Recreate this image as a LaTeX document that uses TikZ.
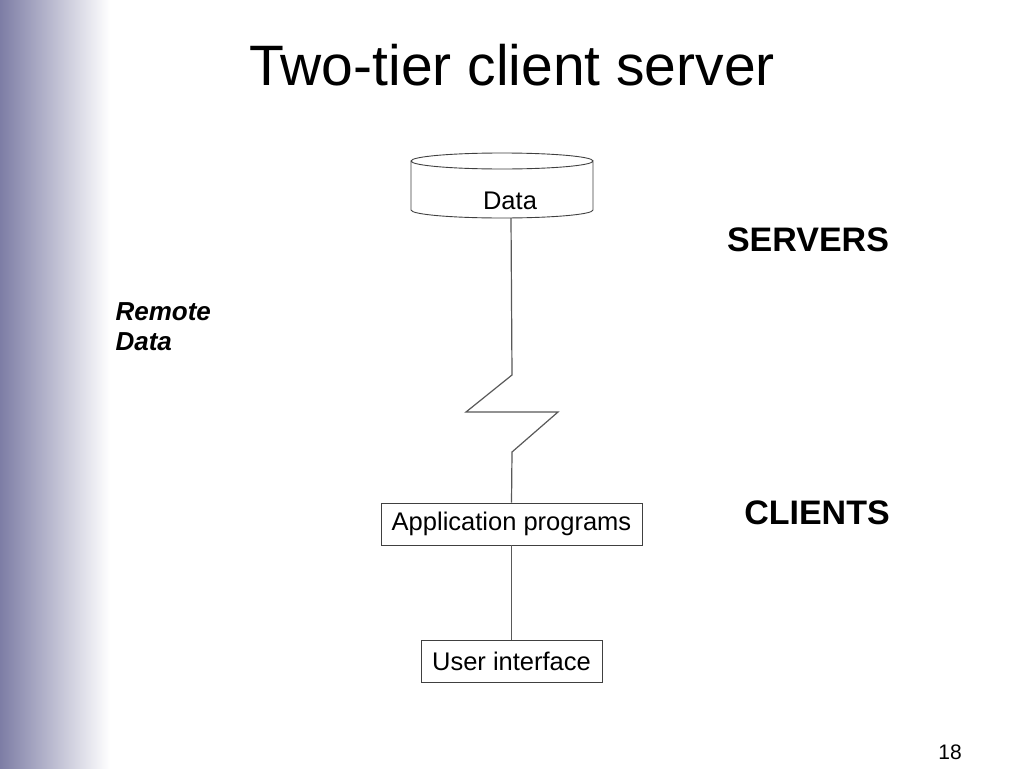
\documentclass[tikz,border=0pt]{standalone}
\usepackage{fontspec}
\setmainfont{Liberation Sans}
\begin{document}
\begin{tikzpicture}[x=1pt,y=-1pt,
  box/.style={draw=black!75,line width=0.9pt,fill=white,inner sep=0pt,font=\fontsize{25.5}{30}\selectfont},
  link/.style={draw=black!65,line width=1.2pt},
  side/.style={font=\bfseries\fontsize{34}{38}\selectfont}]
\useasboundingbox (0,0) rectangle (1024,768);
\fill[white] (0,0) rectangle (1024,768);
\shade[left color={rgb,255:red,125;green,125;blue,165},right color=white] (0,0) rectangle (110,768);
\node[font=\fontsize{57}{64}\selectfont] (title) at (512,65) {Two-tier client server};
% cylinder
\draw[black!75,line width=0.9pt,fill=white] (411,161) -- (411,210) arc[start angle=180,end angle=0,x radius=91,y radius=8] -- (593,161) arc[start angle=0,end angle=360,x radius=91,y radius=8];
\node[font=\fontsize{25.5}{30}\selectfont] (data) at (510,201) {Data};
\coordinate (dbot) at (511,218);
\coordinate (z1) at (512,375);
\coordinate (z2) at (466,412);
\coordinate (z3) at (558,412);
\coordinate (z4) at (512,452);
\node[box,minimum width=261pt,minimum height=42pt] (app) at (511.5,524) {Application programs};
\node[box,minimum width=181pt,minimum height=42pt] (ui) at (511.5,661) {User interface};
\draw[link] (dbot) -- (z1) -- (z2) -- (z3) -- (z4) -- (app.north);
\draw[link] (app.south) -- (ui.north);
\node[side] (servers) at (808,240) {SERVERS};
\node[side] (clients) at (817,513) {CLIENTS};
\node[font=\bfseries\itshape\fontsize{26}{30}\selectfont,align=left,anchor=north west] (remote) at (112,299) {Remote\\Data};
\node[font=\fontsize{21}{24}\selectfont] (page) at (950,752) {18};
\end{tikzpicture}
\end{document}
